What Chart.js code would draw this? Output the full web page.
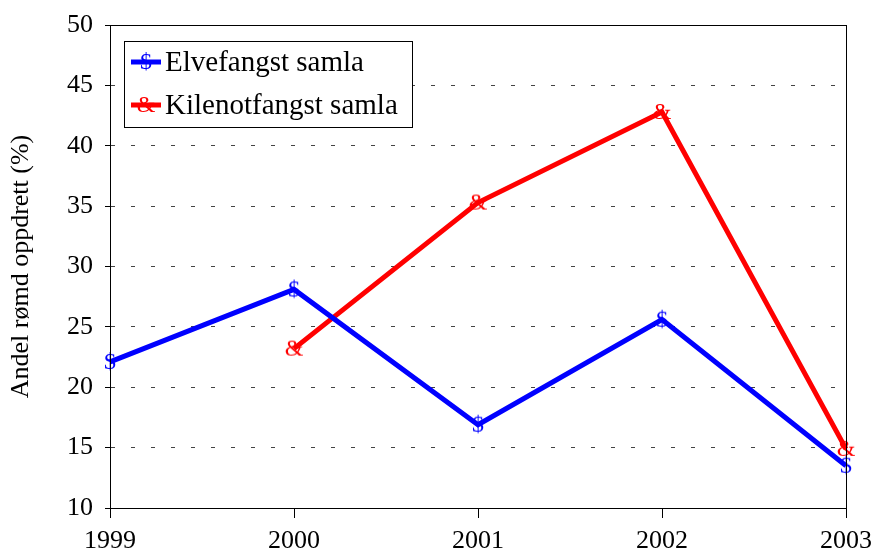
<!DOCTYPE html>
<html>
<head>
<meta charset="utf-8">
<script src="https://cdn.jsdelivr.net/npm/chart.js@4"></script>
<style>
  body { margin: 0; background: #fff; }
  #wrap { width: 873px; height: 550px; }
</style>
</head>
<body>
<div id="wrap"><canvas id="chart" width="873" height="550"></canvas></div>
<script>
const years = ["1999", "2000", "2001", "2002", "2003"];
const elvefangst = [22.1, 28.1, 16.9, 25.6, 13.5];
const kilenotfangst = [null, 23.2, 35.3, 42.8, 14.9];
const yTicks = [10, 15, 20, 25, 30, 35, 40, 45, 50];

const serif = '"Liberation Serif", "Times New Roman", serif';

// marker glyphs like the old Excel symbol markers
function glyph(ch, color) {
    const c = document.createElement("canvas");
    c.width = 26;
    c.height = 30;
    const g = c.getContext("2d");
    g.font = "24px " + serif;
    g.fillStyle = color;
    g.textAlign = "center";
    g.textBaseline = "middle";
    g.fillText(ch, 13, 16);
    return c;
}
const dollar = glyph("$", "#0000ff");
const amp = glyph("&", "#ff0000");

// black frame round the plot area
const frame = {
    id: "frame",
    afterDatasetsDraw(chart) {
        const a = chart.chartArea;
        const ctx = chart.ctx;
        ctx.save();
        ctx.strokeStyle = "#000";
        ctx.lineWidth = 1;
        ctx.strokeRect(a.left + 0.5, a.top + 0.5, a.right - a.left, a.bottom - a.top);
        ctx.restore();
    }
};

// boxed legend inside the plot, top left
const boxLegend = {
    id: "boxLegend",
    afterDraw(chart) {
        const a = chart.chartArea;
        const ctx = chart.ctx;
        const x0 = a.left + 14, y0 = a.top + 16, w = 288, h = 86;
        ctx.save();
        ctx.fillStyle = "#fff";
        ctx.fillRect(x0, y0, w, h);
        ctx.strokeStyle = "#000";
        ctx.lineWidth = 1;
        ctx.strokeRect(x0 + 0.5, y0 + 0.5, w, h);
        chart.data.datasets.forEach((ds, i) => {
            const y = y0 + 21 + i * 43;
            ctx.strokeStyle = ds.borderColor;
            ctx.lineWidth = 5;
            ctx.beginPath();
            ctx.moveTo(x0 + 7, y);
            ctx.lineTo(x0 + 37, y);
            ctx.stroke();
            ctx.drawImage(ds.pointStyle, x0 + 22 - 13, y - 15);
            ctx.fillStyle = "#000";
            ctx.font = "29px " + serif;
            ctx.textBaseline = "middle";
            ctx.fillText(ds.label, x0 + 41, y + 1);
        });
        ctx.restore();
    }
};

new Chart(document.getElementById("chart").getContext("2d"), {
    type: "line",
    data: {
        labels: years,
        datasets: [
            {
                label: "Elvefangst samla",
                data: elvefangst,
                borderColor: "#0000ff",
                borderWidth: 5,
                pointStyle: dollar,
                tension: 0
            },
            {
                label: "Kilenotfangst samla",
                data: kilenotfangst,
                borderColor: "#ff0000",
                borderWidth: 5,
                pointStyle: amp,
                tension: 0
            }
        ]
    },
    options: {
        responsive: false,
        animation: false,
        devicePixelRatio: 1,
        layout: { padding: { left: 0, right: 27, top: 25, bottom: 0 } },
        plugins: {
            legend: { display: false },
            tooltip: { enabled: false }
        },
        scales: {
            x: {
                offset: false,
                grid: { drawOnChartArea: false, tickLength: 10, color: "#000" },
                border: { color: "#000", width: 1 },
                ticks: { color: "#000", font: { family: serif, size: 26 }, padding: 8, maxRotation: 0 },
                afterFit(scale) {
                    scale.height = 42;
                    scale.paddingLeft = 0;
                    scale.paddingRight = 0;
                }
            },
            y: {
                min: 10,
                max: 50,
                afterBuildTicks(scale) { scale.ticks = yTicks.map(v => ({ value: v })); },
                grid: { color: "#444", tickLength: 5, tickColor: "#000", tickBorderDash: [] },
                border: { color: "#000", width: 1, dash: [4, 16] },
                ticks: { color: "#000", font: { family: serif, size: 26 }, padding: 12 },
                title: {
                    display: true,
                    text: "Andel rømd oppdrett (%)",
                    color: "#000",
                    font: { family: serif, size: 26 },
                    padding: { top: 6, bottom: 0 }
                },
                afterFit(scale) {
                    scale.width = 110;
                    scale.paddingTop = 0;
                    scale.paddingBottom = 0;
                }
            }
        }
    },
    plugins: [frame, boxLegend]
});
</script>
</body>
</html>
